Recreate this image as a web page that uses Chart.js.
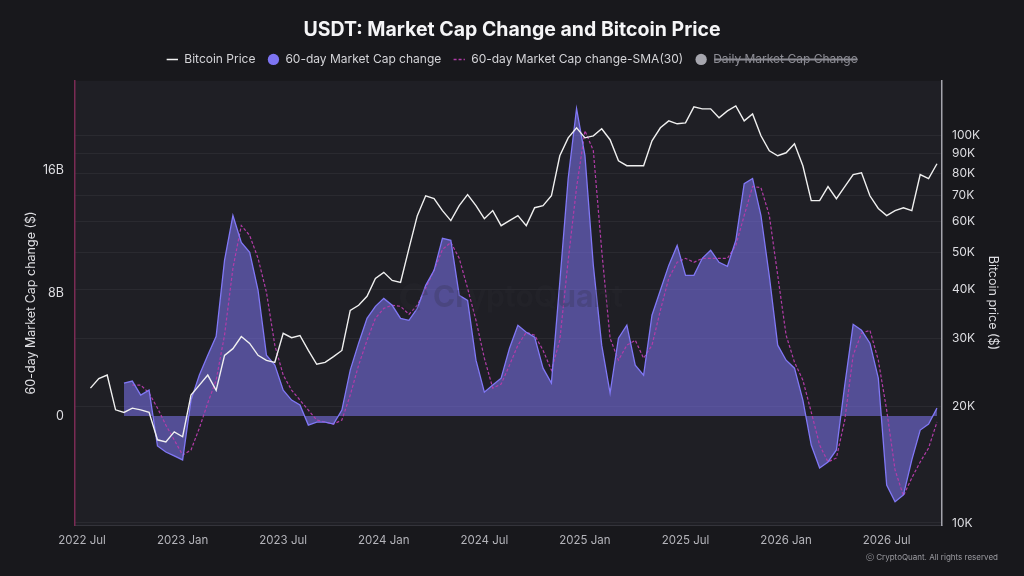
<!DOCTYPE html>
<html lang="en">
<head>
<meta charset="UTF-8">
<title>USDT: Market Cap Change and Bitcoin Price</title>
<script src="https://cdn.jsdelivr.net/npm/chart.js"></script>
<style>
  html, body { margin: 0; padding: 0; background: #18181c; }
  .wrap { width: 1024px; height: 576px; position: relative; }
</style>
</head>
<body>
<div class="wrap"><canvas id="chart"></canvas></div>
<script>
// sample positions, months after 2022 Jul (half-month steps)
const months = [0, 0.5, 1, 1.5, 2, 2.5, 3, 3.5, 4, 4.5, 5, 5.5, 6, 6.5, 7, 7.5, 8, 8.5, 9, 9.5,
  10, 10.5, 11, 11.5, 12, 12.5, 13, 13.5, 14, 14.5, 15, 15.5, 16, 16.5, 17, 17.5, 18, 18.5, 19, 19.5,
  20, 20.5, 21, 21.5, 22, 22.5, 23, 23.5, 24, 24.5, 25, 25.5, 26, 26.5, 27, 27.5, 28, 28.5, 29, 29.5,
  30, 30.5, 31, 31.5, 32, 32.5, 33, 33.5, 34, 34.5, 35, 35.5, 36, 36.5, 37, 37.5, 38, 38.5, 39, 39.5,
  40, 40.5, 41, 41.5, 42, 42.5, 43, 43.5, 44, 44.5, 45, 45.5, 46, 46.5, 47, 47.5, 48, 48.5, 49, 49.5,
  50, 50.5, 51];

const xTickPos = [0, 6, 12, 18, 24, 30, 36, 42, 48];
const xTickLabels = ['2022 Jul', '2023 Jan', '2023 Jul', '2024 Jan', '2024 Jul',
  '2025 Jan', '2025 Jul', '2026 Jan', '2026 Jul'];

// Bitcoin price, thousand USD
const btcPrice = [null, 22.3, 23.6, 24.1, 19.6, 19.3, 19.8, 19.6, 19.3, 16.4,
  16.2, 17.2, 16.7, 21.4, 22.7, 24.1, 22.0, 27.1, 28.2, 30.3,
  29.1, 27.1, 26.3, 26.0, 30.9, 30.1, 30.5, 27.9, 25.7, 26.0,
  26.9, 27.9, 35.4, 36.5, 38.5, 42.8, 44.4, 42.3, 41.8, 51.1,
  62.2, 70.0, 68.8, 64.1, 60.4, 66.0, 70.5, 66.0, 61.1, 64.1,
  58.6, 60.4, 62.2, 58.6, 65.2, 66.0, 70.0, 88.8, 98.8, 104.9,
  98.8, 100, 104.3, 97.7, 86.2, 83.7, 83.7, 83.7, 97.1, 104.9,
  109.3, 107.4, 108.0, 118.8, 117.4, 117.4, 111.3, 116.0, 119.5, 109.3,
  113.9, 100, 91.5, 88.8, 90.4, 95.4, 83.7, 68.0, 68.0, 73.9,
  68.8, 73.9, 79.4, 80.3, 70.0, 64.9, 62.2, 64.1, 65.2, 64.1,
  79.4, 77.5, 84.7];

// 60-day market cap change, billion USD
const mcChange = [null, null, null, null, null, 2.15, 2.28, 1.37, 1.69, -1.95,
  -2.34, -2.60, -2.86, 1.04, 2.67, 3.97, 5.20, 10.15, 13.07, 11.32,
  10.67, 8.20, 3.97, 3.32, 1.69, 1.04, 0.72, -0.59, -0.39, -0.39,
  -0.52, 0.39, 2.99, 4.75, 6.37, 7.15, 7.67, 7.22, 6.37, 6.24,
  7.02, 8.52, 9.50, 11.58, 11.45, 7.87, 7.54, 3.64, 1.56, 2.02,
  2.47, 4.42, 5.92, 5.46, 5.14, 3.12, 2.15, 8.72, 15.48, 20.03,
  16.98, 9.82, 4.62, 1.50, 5.07, 5.92, 3.32, 2.67, 6.57, 8.20,
  9.82, 11.12, 9.17, 9.17, 10.28, 10.80, 10.02, 9.76, 11.45, 15.15,
  15.48, 13.07, 9.11, 4.62, 3.64, 3.12, 1.04, -1.89, -3.38, -2.99,
  -2.21, 2.02, 5.98, 5.59, 4.75, 2.47, -4.49, -5.59, -5.14, -2.86,
  -0.91, -0.52, 0.52];

// 30-day SMA of the 60-day change, billion USD
const mcChangeSma = [null, null, null, null, null, null, 2.02, 2.02, 1.50, 0.52,
  -0.59, -1.56, -2.54, -2.21, -0.78, 0.85, 2.34, 5.27, 9.63, 12.42,
  11.77, 10.28, 8.07, 4.62, 2.67, 1.69, 1.04, 0.39, -0.26, -0.39,
  -0.52, -0.26, 1.37, 3.32, 4.94, 6.37, 7.02, 7.22, 7.15, 6.63,
  7.22, 8.33, 9.50, 10.86, 11.32, 10.28, 8.33, 6.24, 3.77, 1.82,
  2.08, 3.32, 4.62, 5.46, 5.27, 4.29, 2.99, 4.94, 10.15, 14.89,
  18.60, 17.30, 10.80, 5.07, 3.64, 4.62, 4.94, 3.77, 4.62, 6.89,
  8.98, 10.02, 10.28, 10.02, 10.28, 10.28, 10.28, 10.28, 11.12, 13.07,
  14.96, 14.89, 13.07, 9.17, 5.27, 3.51, 2.34, 0.26, -1.89, -2.99,
  -2.73, -0.26, 3.97, 5.40, 5.59, 3.64, 0.39, -3.51, -5.20, -4.03,
  -2.99, -2.08, -0.39];

const leftTicks = [0, 8, 16];
const leftTickLabels = ['0', '8B', '16B'];
const rightTicks = [10, 20, 30, 40, 50, 60, 70, 80, 90, 100];
const rightTickLabels = ['10K', '20K', '30K', '40K', '50K', '60K', '70K', '80K', '90K', '100K'];

const toPoints = vals => months.map((m, i) => ({ x: m, y: vals[i] }));

Chart.defaults.font.family = 'Inter, "Noto Sans", sans-serif';

const legendLook = [
  { pointStyle: 'line', strokeStyle: '#f2f2f2', lineWidth: 1.5 },
  { pointStyle: 'circle', fillStyle: '#7d74f2', strokeStyle: '#7d74f2', lineWidth: 0 },
  { pointStyle: 'line', strokeStyle: '#b13ca8', lineWidth: 1.5, lineDash: [3, 2] },
  { pointStyle: 'circle', fillStyle: '#a6a6ae', strokeStyle: '#a6a6ae', lineWidth: 0, fontColor: '#8c8c94' }
];

// plot background, watermark, copyright, and a gap under the legend
const decor = {
  id: 'decor',
  beforeLayout(chart) {
    const lg = chart.legend;
    if (!lg || lg._gapDone) return;
    const fit = lg.fit;
    lg.fit = function () { fit.call(this); this.height = 39.4; };
    lg._gapDone = true;
  },
  beforeDraw(chart) {
    const { ctx, chartArea: a } = chart;
    ctx.save();
    ctx.fillStyle = '#1f1f25';
    ctx.fillRect(a.left, a.top, a.right - a.left, a.bottom - a.top);
    ctx.restore();
  },
  afterDatasetsDraw(chart) {
    const ctx = chart.ctx;
    ctx.save();
    ctx.fillStyle = 'rgba(46,46,54,0.22)';
    ctx.strokeStyle = 'rgba(46,46,54,0.22)';
    ctx.lineWidth = 6;
    ctx.beginPath();
    ctx.arc(414, 297, 11, 0.35 * Math.PI, 1.95 * Math.PI);
    ctx.stroke();
    ctx.font = 'bold 30px Inter, sans-serif';
    ctx.textBaseline = 'middle';
    ctx.fillText('CryptoQuant', 433, 298);
    ctx.restore();
  },
  afterDraw(chart) {
    const ctx = chart.ctx;
    ctx.save();
    ctx.fillStyle = '#9c9ca2';
    ctx.font = '8px Inter, sans-serif';
    ctx.textAlign = 'right';
    ctx.textBaseline = 'middle';
    ctx.fillText('\u24D2 CryptoQuant. All rights reserved', 998, 558);
    ctx.restore();
  }
};

new Chart(document.getElementById('chart'), {
  type: 'line',
  data: {
    datasets: [
      {
        label: 'Bitcoin Price',
        data: toPoints(btcPrice),
        yAxisID: 'yR',
        borderColor: '#f0f0f0',
        borderWidth: 1.4,
        pointRadius: 0,
        fill: false
      },
      {
        label: '60-day Market Cap change',
        data: toPoints(mcChange),
        yAxisID: 'y',
        borderColor: '#8178f6',
        borderWidth: 1.3,
        backgroundColor: 'rgba(125,116,242,0.55)',
        fill: 'origin',
        pointRadius: 0
      },
      {
        label: '60-day Market Cap change-SMA(30)',
        data: toPoints(mcChangeSma),
        yAxisID: 'y',
        borderColor: '#b23ca8',
        borderWidth: 1.2,
        borderDash: [3, 2],
        pointRadius: 0,
        fill: false
      },
      {
        label: 'Daily Market Cap Change',
        data: [],
        yAxisID: 'y',
        hidden: true,
        borderColor: '#a6a6ae',
        backgroundColor: '#a6a6ae'
      }
    ]
  },
  options: {
    responsive: true,
    maintainAspectRatio: false,
    animation: false,
    layout: { padding: 0 },
    plugins: {
      filler: { propagate: false, drawTime: 'beforeDatasetsDraw' },
      tooltip: { enabled: false },
      title: {
        display: true,
        text: 'USDT: Market Cap Change and Bitcoin Price',
        color: '#f5f5f7',
        font: { size: 19.5, weight: 'bold' },
        padding: { top: 18, bottom: 0 }
      },
      legend: {
        position: 'top',
        labels: {
          usePointStyle: true,
          boxHeight: 8,
          padding: 12,
          color: '#d4d4d8',
          font: { size: 12 },
          generateLabels: chart => chart.data.datasets.map((ds, i) => Object.assign({
            text: ds.label,
            datasetIndex: i,
            hidden: !chart.isDatasetVisible(i),
            fontColor: '#d4d4d8'
          }, legendLook[i]))
        }
      }
    },
    scales: {
      x: {
        type: 'linear',
        min: -0.42,
        max: 51.3,
        afterBuildTicks: s => { s.ticks = xTickPos.map(v => ({ value: v })); },
        afterFit: s => { s.height = 51; },
        ticks: {
          callback: (v, i) => xTickLabels[i],
          color: '#b4b4ba',
          font: { size: 11.5 },
          padding: 9,
          maxRotation: 0,
          autoSkip: false
        },
        grid: { display: false, drawTicks: false },
        border: { color: '#34343b', width: 1 }
      },
      y: {
        position: 'left',
        min: -7.1,
        max: 21.85,
        afterBuildTicks: s => { s.ticks = leftTicks.map(v => ({ value: v })); },
        afterFit: s => { s.width = 75; },
        ticks: {
          callback: (v, i) => leftTickLabels[i],
          color: '#dedee2',
          font: { size: 12.5 },
          padding: 11
        },
        grid: { display: false, drawTicks: false },
        border: { color: '#7a2b54', width: 1.5 },
        title: {
          display: true,
          text: '60-day Market Cap change ($)',
          color: '#dedee2',
          font: { size: 12.5 },
          padding: { top: 24, bottom: 0 }
        }
      },
      yR: {
        type: 'logarithmic',
        position: 'right',
        min: 9.88,
        max: 138.7,
        afterBuildTicks: s => { s.ticks = rightTicks.map(v => ({ value: v })); },
        afterFit: s => { s.width = 82; },
        ticks: {
          callback: (v, i) => rightTickLabels[i],
          color: '#dedee2',
          font: { size: 12 },
          padding: 10,
          autoSkip: false
        },
        grid: { color: 'rgba(255,255,255,0.05)', drawTicks: false },
        border: { color: '#a4a4ac', width: 1.5 },
        title: {
          display: true,
          text: 'Bitcoin price ($)',
          color: '#dedee2',
          font: { size: 12.5 },
          padding: { top: 24, bottom: 0 }
        }
      }
    }
  },
  plugins: [decor]
});
</script>
</body>
</html>
